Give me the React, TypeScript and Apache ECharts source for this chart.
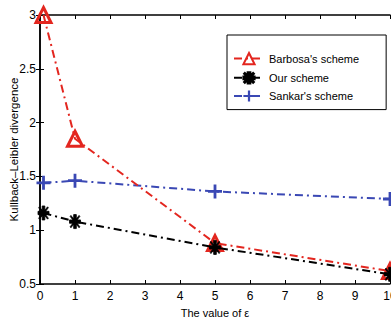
import React, { useEffect, useRef } from "react";
import * as echarts from "echarts";

const epsilonValues = [0.1, 1, 5, 10];
const barbosa = [3.0, 1.85, 0.88, 0.62];
const ours = [1.16, 1.08, 0.84, 0.59];
const sankar = [1.44, 1.46, 1.36, 1.29];
const seriesNames = ["Barbosa's scheme", "Our scheme", "Sankar's scheme"];

const FONT = "'Liberation Sans Narrow', 'Arial Narrow', 'Liberation Sans', Arial, sans-serif";
const RED = "#e3261f";
const BLACK = "#000000";
const BLUE = "#3a48b4";

const plusPath = "path://M4,0H6V4H10V6H6V10H4V6H0V4H4Z";
const starPath =
  "path://M3.8,0H6.2V3.8H10V6.2H6.2V10H3.8V6.2H0V3.8H3.8Z M1.3,0.6L5,4.3L8.7,0.6L9.4,1.3L5.7,5L9.4,8.7L8.7,9.4L5,5.7L1.3,9.4L0.6,8.7L4.3,5L0.6,1.3Z";

const dashDot = [8, 4, 2, 4];

function pairs(ys: number[]) {
  return epsilonValues.map((x, i) => [x, ys[i]]);
}

export default function App() {
  const ref = useRef<HTMLDivElement>(null);
  useEffect(() => {
    if (!ref.current) return;
    const chart = echarts.init(ref.current, undefined, { renderer: "svg" });
    const axisLine = { show: true, lineStyle: { color: "#000", width: 1.5 } };
    chart.setOption({
      animation: false,
      backgroundColor: "#fff",
      textStyle: { fontFamily: FONT },
      grid: { left: 40, right: 1, top: 15, bottom: 42, containLabel: false, outerBoundsMode: "none" },
      legend: {
        orient: "vertical",
        left: 227,
        top: 35,
        padding: [17, 27, 8, 6],
        itemGap: 6,
        itemWidth: 30,
        itemHeight: 14,
        borderColor: "#000",
        borderWidth: 1,
        backgroundColor: "#fff",
        textStyle: { fontFamily: FONT, fontSize: 11, color: "#000" },
        data: seriesNames,
      },
      xAxis: [
        {
          type: "value",
          min: 0,
          max: 10,
          interval: 1,
          name: "The value of ε",
          nameLocation: "middle",
          nameGap: 23,
          nameMoveOverlap: false,
          nameTextStyle: { fontFamily: FONT, fontSize: 11, color: "#000" },
          axisLine,
          axisTick: { inside: true, length: 4, lineStyle: { color: "#000" } },
          axisLabel: { fontFamily: FONT, fontSize: 12, color: "#000", margin: 6 },
          splitLine: { show: false },
        },
        {
          type: "value",
          position: "top",
          min: 0,
          max: 10,
          interval: 1,
          axisLine,
          axisTick: { inside: true, length: 4, lineStyle: { color: "#000" } },
          axisLabel: { show: false },
          splitLine: { show: false },
        },
      ],
      yAxis: [
        {
          type: "value",
          min: 0.5,
          max: 3,
          interval: 0.5,
          name: "Kullback–Leibler divergence",
          nameLocation: "middle",
          nameGap: 20,
          nameMoveOverlap: false,
          nameTextStyle: { fontFamily: FONT, fontSize: 11.5, color: "#000" },
          axisLine,
          axisTick: { inside: true, length: 4, lineStyle: { color: "#000" } },
          axisLabel: { fontFamily: FONT, fontSize: 12, color: "#000", margin: 4 },
          splitLine: { show: false },
        },
        {
          type: "value",
          position: "right",
          min: 0.5,
          max: 3,
          interval: 0.5,
          axisLine,
          axisTick: { inside: true, length: 4, lineStyle: { color: "#000" } },
          axisLabel: { show: false },
          splitLine: { show: false },
        },
      ],
      series: [
        {
          name: seriesNames[0],
          type: "line",
          data: pairs(barbosa),
          symbol: "triangle",
          symbolSize: 15,
          clip: false,
          z: 3,
          lineStyle: { color: RED, width: 2, type: dashDot },
          itemStyle: { color: "rgba(255,255,255,0)", borderColor: RED, borderWidth: 3 },
        },
        {
          name: seriesNames[1],
          type: "line",
          data: pairs(ours),
          symbol: starPath,
          symbolSize: [11, 14],
          clip: false,
          z: 4,
          lineStyle: { color: BLACK, width: 2, type: dashDot },
          itemStyle: { color: BLACK, borderColor: BLACK, borderWidth: 0.8 },
        },
        {
          name: seriesNames[2],
          type: "line",
          data: pairs(sankar),
          symbol: plusPath,
          symbolSize: 14,
          clip: false,
          z: 2,
          lineStyle: { color: BLUE, width: 2, type: dashDot },
          itemStyle: { color: BLUE },
        },
      ],
    });
    return () => chart.dispose();
  }, []);
  return (
    <div
      ref={ref}
      style={{ position: "fixed", left: 0, top: 0, width: 391, height: 326 }}
    />
  );
}
